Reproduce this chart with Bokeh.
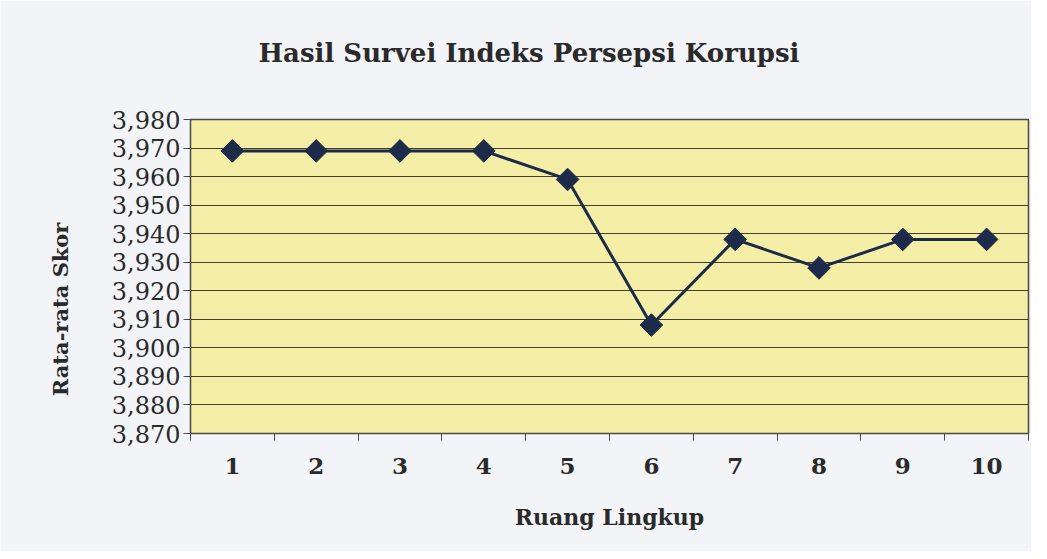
import math
from bokeh.plotting import figure
from bokeh.models import FixedTicker, LinearAxis, Range1d, Title
from bokeh.embed import file_html
from bokeh.resources import INLINE

# ---- data ----
categories = ["1", "2", "3", "4", "5", "6", "7", "8", "9", "10"]
x_pos = [1, 2, 3, 4, 5, 6, 7, 8, 9, 10]
scores = [3.969, 3.969, 3.969, 3.969, 3.959, 3.908, 3.938, 3.928, 3.938, 3.938]
y_ticks = [3.870, 3.880, 3.890, 3.900, 3.910, 3.920, 3.930, 3.940, 3.950, 3.960, 3.970, 3.980]
y_tick_labels = ["3,870", "3,880", "3,890", "3,900", "3,910", "3,920",
                 "3,930", "3,940", "3,950", "3,960", "3,970", "3,980"]
cat_bounds = [0.5, 1.5, 2.5, 3.5, 4.5, 5.5, 6.5, 7.5, 8.5, 9.5, 10.5]

title_text = "Hasil Survei Indeks Persepsi Korupsi"
x_title = "Ruang Lingkup"
y_title = "Rata-rata Skor"

FONT = "DejaVu Serif"
INK = "#1c2b4a"
TXT = "#2a2a2a"

p = figure(width=1031, height=551, output_backend="svg", toolbar_location=None,
           x_range=Range1d(0.5, 10.5), y_range=Range1d(3.870, 3.980),
           min_border_left=190, min_border_right=3, min_border_top=119, min_border_bottom=118)

p.background_fill_color = "#f5eea6"
p.border_fill_color = "#f2f4f8"
p.outline_line_color = "#4a4a4a"
p.outline_line_width = 1.5

# spacer between title and frame
p.add_layout(Title(text=" ", text_font_size="1px", standoff=42), "above")

# title
p.title.text = title_text
p.title.text_font = FONT
p.title.text_font_size = "26px"
p.title.text_font_style = "bold"
p.title.text_color = TXT
p.title.align = "left"
p.title.vertical_align = "top"
p.title.offset = 68
p.title.standoff = 10

# grid
p.xgrid.grid_line_color = None
p.ygrid.ticker = FixedTicker(ticks=y_ticks)
p.ygrid.grid_line_color = "#453d2e"
p.ygrid.grid_line_width = 1.2

# y axis
ya = p.yaxis[0]
ya.ticker = FixedTicker(ticks=y_ticks)
ya.major_label_overrides = dict(zip(y_ticks, y_tick_labels))
ya.major_label_text_font = FONT
ya.major_label_text_font_size = "24px"
ya.major_label_text_color = TXT
ya.major_tick_out = 7
ya.major_tick_in = 0
ya.minor_tick_out = 0
ya.minor_tick_in = 0
ya.axis_line_color = "#4a4a4a"
ya.major_tick_line_color = "#4a4a4a"
ya.major_label_standoff = 3
ya.axis_label = y_title + "\u00a0" * 9
ya.axis_label_text_font = FONT
ya.axis_label_text_font_size = "21px"
ya.axis_label_text_font_style = "bold"
ya.axis_label_text_color = TXT
ya.axis_label_standoff = 36

# x axis: tick marks between categories
xa = p.xaxis[0]
xa.ticker = FixedTicker(ticks=cat_bounds)
xa.major_label_overrides = {b: "" for b in cat_bounds}
xa.major_tick_out = 7
xa.major_tick_in = 0
xa.minor_tick_out = 0
xa.minor_tick_in = 0
xa.axis_line_color = "#4a4a4a"
xa.major_tick_line_color = "#4a4a4a"
xa.major_label_standoff = 0
xa.major_label_text_font_size = "1px"

# x axis: category labels
xl = LinearAxis(ticker=FixedTicker(ticks=x_pos))
xl.major_label_overrides = dict(zip(x_pos, categories))
xl.axis_line_color = None
xl.major_tick_line_color = None
xl.minor_tick_line_color = None
xl.major_label_text_font = FONT
xl.major_label_text_font_size = "23px"
xl.major_label_text_font_style = "bold"
xl.major_label_text_color = TXT
xl.major_label_standoff = 11
xl.axis_label = x_title
xl.axis_label_text_font = FONT
xl.axis_label_text_font_size = "22px"
xl.axis_label_text_font_style = "bold"
xl.axis_label_text_color = TXT
xl.axis_label_standoff = 27
p.add_layout(xl, "below")

# series
p.line(x_pos, scores, line_color=INK, line_width=3)
p.scatter(x_pos, scores, marker="square", angle=math.pi / 4, size=16,
          fill_color=INK, line_color=INK)

open("out.html", "w").write(file_html(p, INLINE))
